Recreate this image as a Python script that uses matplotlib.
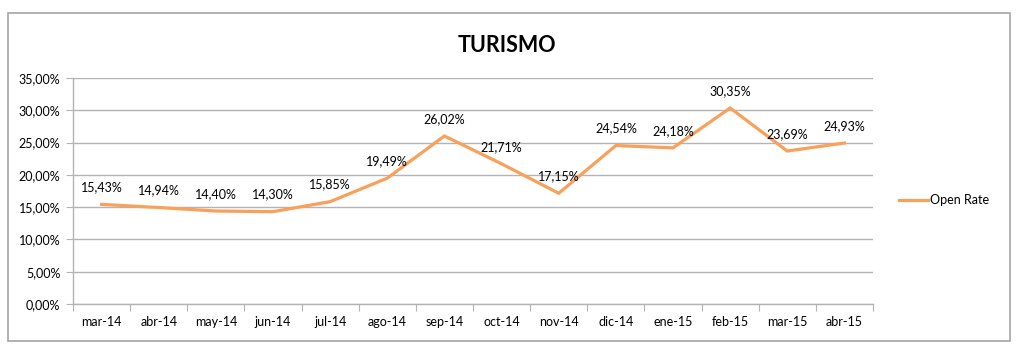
import matplotlib
matplotlib.use("Agg")
import matplotlib.pyplot as plt
from matplotlib.patches import Rectangle
from matplotlib.lines import Line2D

categories = ["mar-14", "abr-14", "may-14", "jun-14", "jul-14", "ago-14", "sep-14",
              "oct-14", "nov-14", "dic-14", "ene-15", "feb-15", "mar-15", "abr-15"]
open_rate = [15.43, 14.94, 14.40, 14.30, 15.85, 19.49, 26.02,
             21.71, 17.15, 24.54, 24.18, 30.35, 23.69, 24.93]
y_ticks = [0, 5, 10, 15, 20, 25, 30, 35]

plt.rcParams['font.family'] = ['Lato', 'DejaVu Sans']
W, H = 1020, 353
fig = plt.figure(figsize=(W / 100, H / 100), dpi=100)
fig.patch.set_facecolor("white")

# outer border
fig.add_artist(Rectangle((8 / W, 1 - 341 / H), (1010 - 8) / W, (341 - 13) / H,
                         transform=fig.transFigure, fill=False,
                         edgecolor="#a6a6a6", linewidth=1.2))

left, right, top, bottom = 73, 873, 78, 304
ax = fig.add_axes([left / W, 1 - bottom / H, (right - left) / W, (bottom - top) / H])

grid_c = "#b3b3b3"
n = len(categories)
x = [i + 0.5 for i in range(n)]
line_c = "#f9a05a"
ax.plot(x, open_rate, color=line_c, linewidth=2.3, solid_joinstyle="miter")

for xi, v in zip(x, open_rate):
    ax.annotate(f"{v:.2f}%".replace(".", ","), (xi, v), xytext=(0, 8),
                textcoords="offset points", ha="center", va="bottom",
                fontsize=9, color="black")

ax.set_xlim(0, n)
ax.set_ylim(0, 35)
ax.set_yticks(y_ticks)
ax.set_yticklabels([f"{t:.2f}%".replace(".", ",") for t in y_ticks], fontsize=9)
ax.set_xticks(range(n + 1))
ax.set_xticklabels([])
ax.set_xticks(x, minor=True)
ax.set_xticklabels(categories, minor=True, fontsize=9)
ax.tick_params(axis="x", which="minor", length=0, pad=9)
ax.tick_params(axis="x", which="major", length=5, color=grid_c, direction="out")
ax.tick_params(axis="y", length=5, color=grid_c, direction="out", pad=4)
ax.grid(axis="y", color=grid_c, linewidth=1.0)
ax.set_axisbelow(True)
for s in ["top", "right"]:
    ax.spines[s].set_visible(False)
for s in ["left", "bottom"]:
    ax.spines[s].set_color(grid_c)
    ax.spines[s].set_linewidth(1.0)

fig.text(507 / W, 1 - 46 / H, "TURISMO", ha="center", va="center",
         fontsize=15.5, fontweight="bold")

# legend
ly = 1 - 200 / H
fig.add_artist(Line2D([899 / W, 928 / W], [ly, ly], transform=fig.transFigure,
                      color=line_c, linewidth=2.3))
fig.text(930 / W, ly, "Open Rate", ha="left", va="center", fontsize=9)

fig.savefig("out.png", dpi=100)
